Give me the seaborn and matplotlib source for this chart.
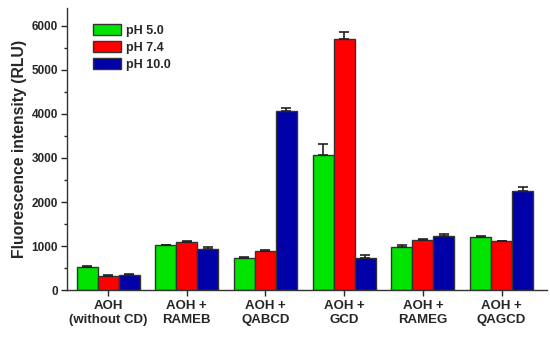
import numpy as np
import pandas as pd
import matplotlib
matplotlib.use("Agg")
import matplotlib.pyplot as plt
from matplotlib.ticker import MultipleLocator
import seaborn as sns

# data
groups = ["AOH\n(without CD)", "AOH +\nRAMEB", "AOH +\nQABCD", "AOH +\nGCD", "AOH +\nRAMEG", "AOH +\nQAGCD"]
ph_levels = ["pH 5.0", "pH 7.4", "pH 10.0"]
ph50 = [530, 1015, 740, 3060, 990, 1210]
ph74 = [320, 1090, 890, 5690, 1140, 1120]
ph100 = [340, 930, 4060, 720, 1220, 2260]
err50 = [20, 20, 20, 260, 25, 15]
err74 = [25, 25, 15, 170, 10, 5]
err100 = [35, 60, 75, 70, 60, 80]
colors = ["#00E400", "#FF0000", "#0000A8"]

rows = []
for ph, vals, errs in zip(ph_levels, [ph50, ph74, ph100], [err50, err74, err100]):
    for g, v, e in zip(groups, vals, errs):
        rows.append({"group": g, "pH": ph, "value": v, "err": e})
df = pd.DataFrame(rows)

sns.set_style("ticks")
plt.rcParams["font.family"] = ["Liberation Sans", "DejaVu Sans"]
plt.rcParams["font.weight"] = "bold"

fig = plt.figure(figsize=(5.5, 3.37), dpi=100)
ax = fig.add_axes([0.122, 0.139, 0.873, 0.837])

sns.barplot(data=df, x="group", y="value", hue="pH", order=groups, hue_order=ph_levels,
            palette=colors, errorbar=None, width=0.8, edgecolor="#333333", linewidth=1.0,
            saturation=1, ax=ax, zorder=2)

# error bars (upper side only) placed on each bar
for cont, ph in zip(ax.containers, ph_levels):
    sub = df[df["pH"] == ph].set_index("group").loc[groups]
    xs = [p.get_x() + p.get_width() / 2 for p in cont.patches]
    ax.errorbar(xs, sub["value"], yerr=[np.zeros(len(sub)), sub["err"]], fmt="none",
                ecolor="#222222", elinewidth=1.2, capsize=3.5, capthick=1.2, zorder=3)

ax.set_ylim(0, 6400)
ax.set_xlim(-0.52, 5.58)
ax.yaxis.set_major_locator(MultipleLocator(1000))
ax.yaxis.set_minor_locator(MultipleLocator(500))
ax.tick_params(axis="y", which="major", length=4.5, width=1, labelsize=8.5, pad=2)
ax.tick_params(axis="y", which="minor", length=2.5, width=1)
ax.tick_params(axis="x", which="major", length=4, width=1, labelsize=9.5, pad=3)
for lab in ax.get_xticklabels() + ax.get_yticklabels():
    lab.set_fontweight("bold")

ax.set_xlabel("")
ax.set_ylabel("Fluorescence intensity (RLU)", fontsize=11.3, fontweight="bold", labelpad=3)
sns.despine(ax=ax)
for sp in ["left", "bottom"]:
    ax.spines[sp].set_color("#333333")
    ax.spines[sp].set_linewidth(1.0)

ax.legend(loc="upper left", bbox_to_anchor=(0.035, 0.975), frameon=False,
          handlelength=2.25, handleheight=0.95, handletextpad=0.4, labelspacing=0.35,
          borderpad=0.2, prop={"weight": "bold", "size": 9})

fig.savefig("out.png", dpi=100)
